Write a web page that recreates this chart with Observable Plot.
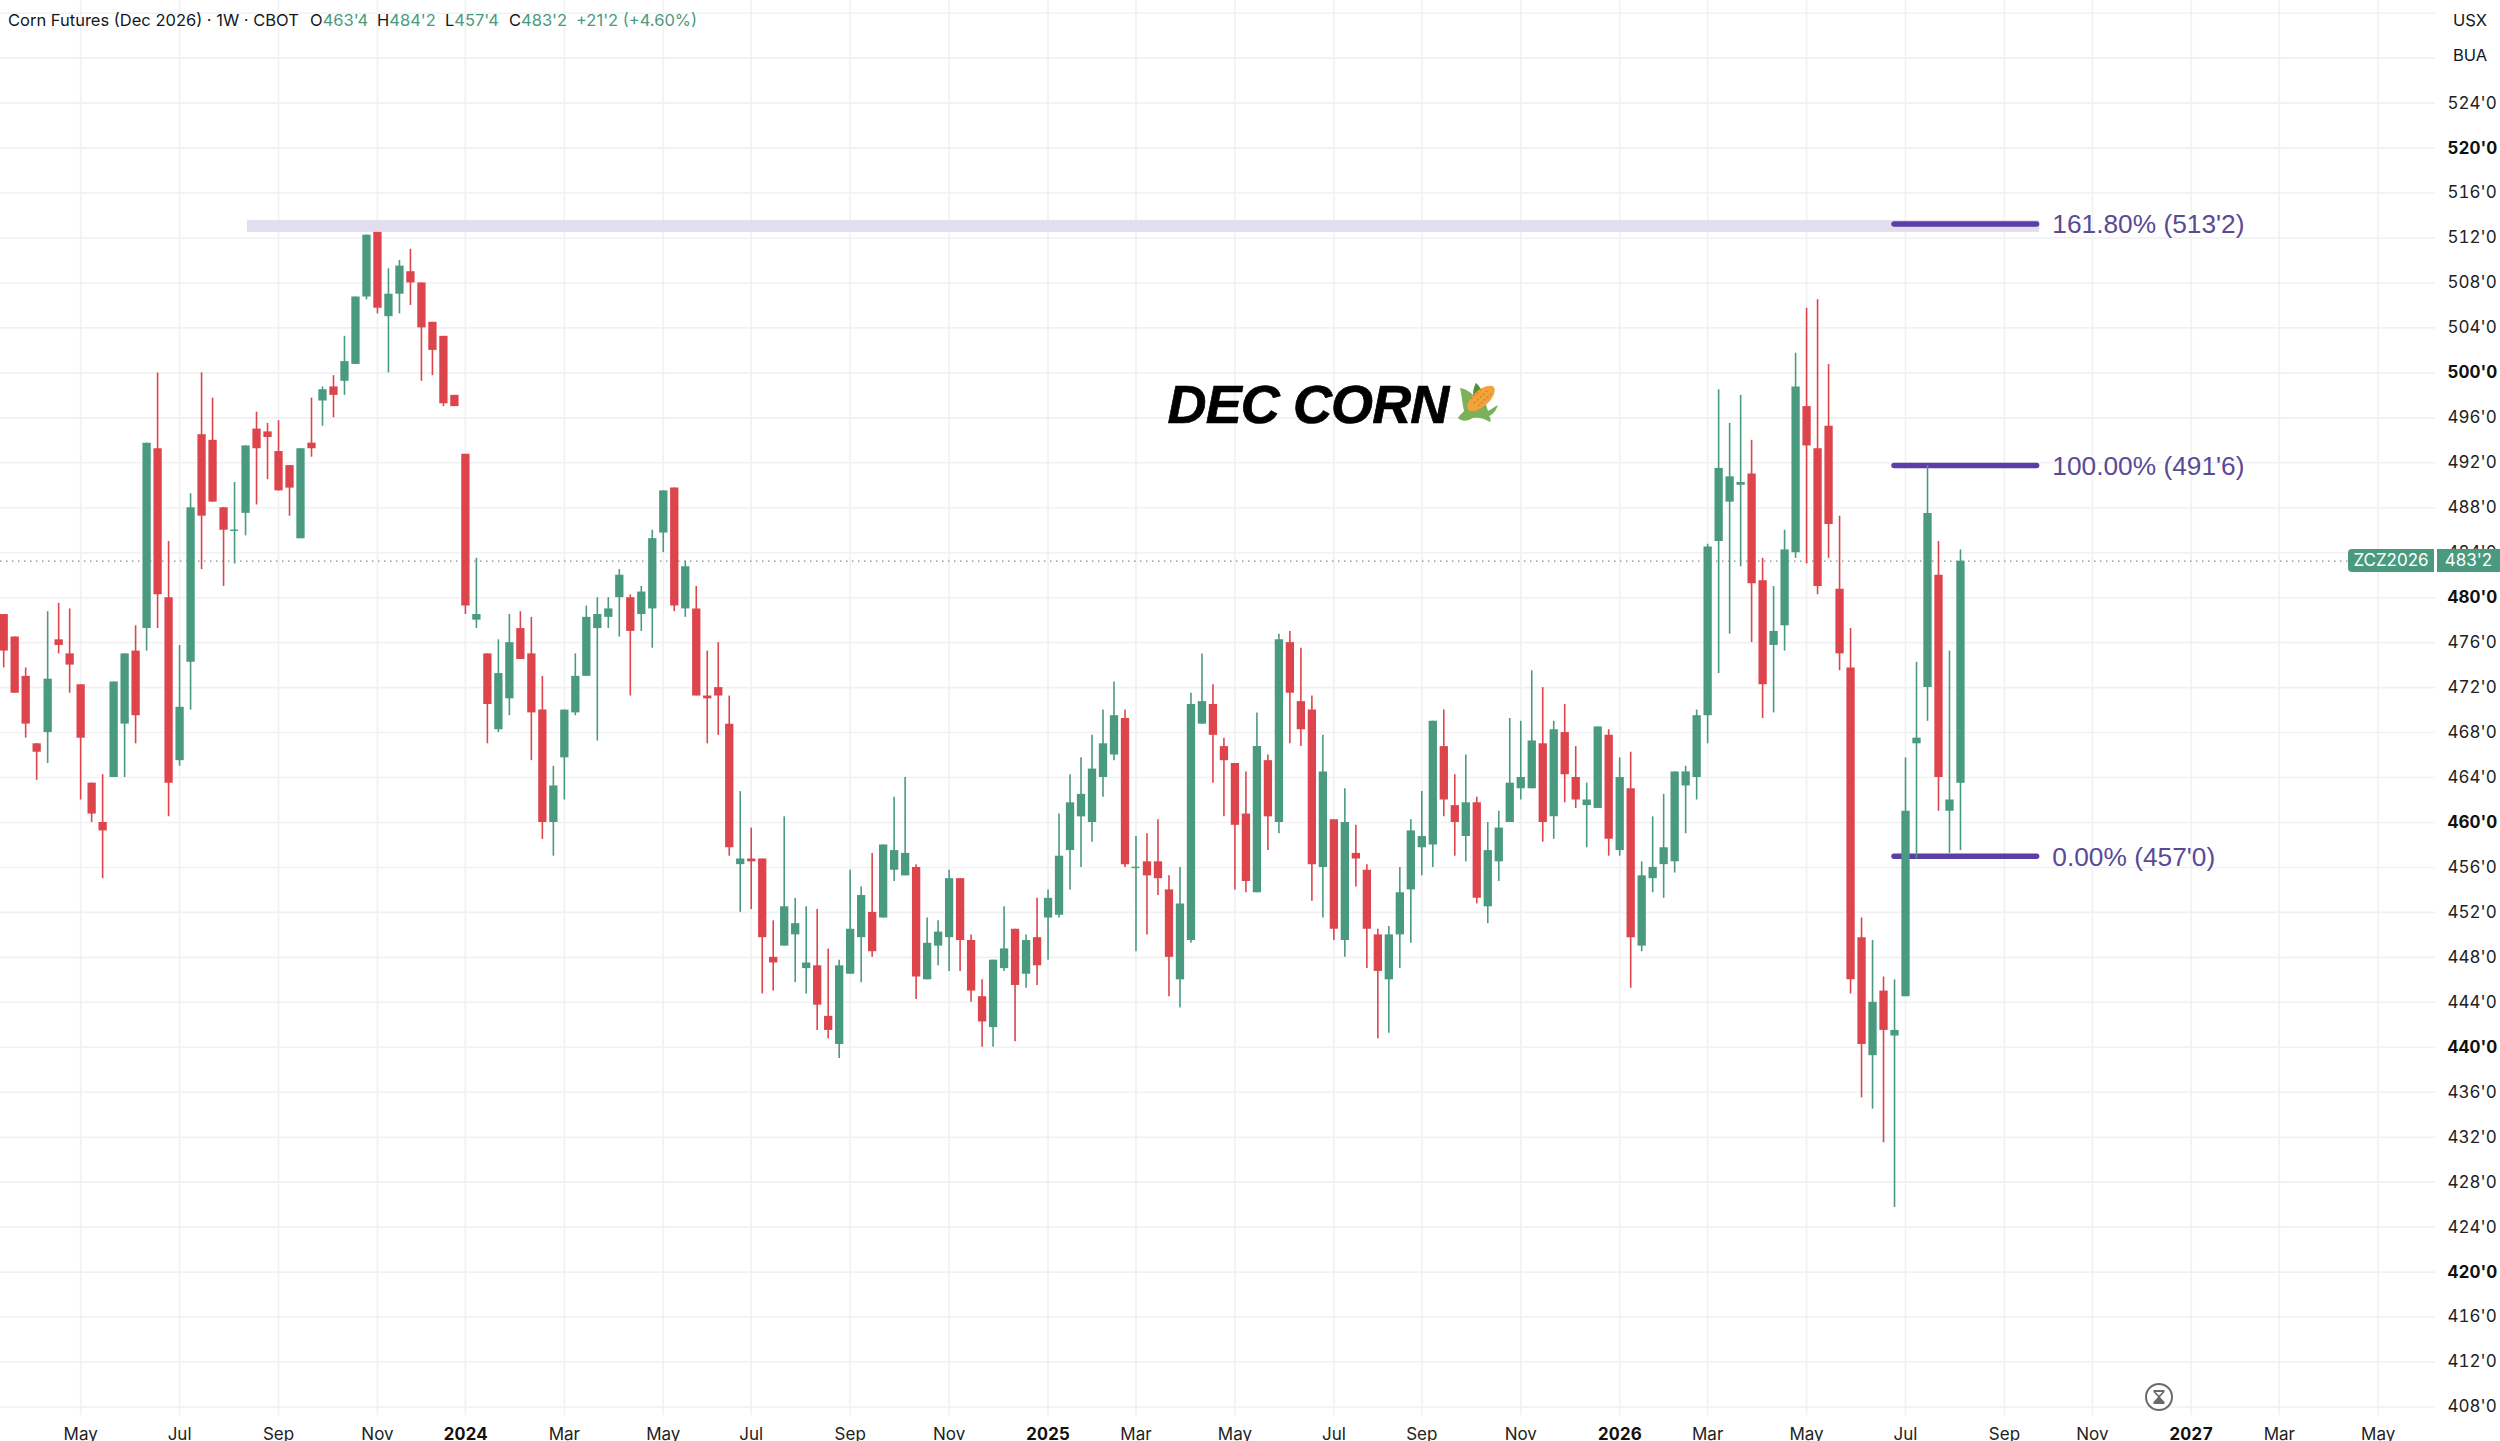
<!DOCTYPE html>
<html>
<head>
<meta charset="utf-8">
<script src="https://cdn.jsdelivr.net/npm/d3@7"></script>
<script src="https://cdn.jsdelivr.net/npm/@observablehq/plot@0.6"></script>
<style>
html,body{margin:0;padding:0;background:#fff;overflow:hidden}
#wrap{position:relative;width:2500px;height:1441px;font-family:Inter,"Liberation Sans",sans-serif}
#wrap svg{display:block}
#wrap svg [font-style="italic"], #wrap svg [font-style="italic"] text{letter-spacing:-0.9px}
.legend{position:absolute;left:8px;top:10px;font-size:16.5px;line-height:20px;color:#131722;white-space:nowrap;background:transparent}
.legend b{font-weight:400;color:#4a9a80}
.legend span{position:absolute;top:0}
.units{position:absolute;left:2441px;top:4px;width:59px;height:68px;background:#fff;border-radius:6px 0 0 6px;font-size:16.5px;color:#131722}
.units div{position:absolute;left:12px}
.tag{position:absolute;top:549px;height:23px;line-height:23px;background:#4a9a80;color:#fff;font-size:17px;text-align:center}
.icon{position:absolute}
</style>
</head>
<body>
<div id="wrap"></div>
<script>
const opens = [
478.5,476.5,473,467,468,476.25,475,472.25,463.5,460,
464,468.75,475.25,477.25,493.25,480,465.5,474.25,494.5,494,
488,486,487.5,495,494.75,493,491.75,485.25,493.75,497.5,
498.75,499.25,500.75,506.75,512.5,505,507,509,508,504.5,
503.25,498,492.75,478,475,468.25,471,477.25,475,470,
460,465.75,469.75,473,477.25,478.25,480,480,478.5,479,
485.75,489.75,479,479,471.25,472,468.75,456.25,456.75,456.75,
448,449,450,447,447.25,442.75,440.25,446.5,449.75,452,
451.5,455.75,455.25,456,446,449,449.75,455,449.5,444.5,
441.75,447,450.5,446.5,449.75,451.5,451.75,457.5,460.5,460,
464,466,469.25,456,456.5,456.5,454,446,449.5,468.75,
470.5,466.75,465.25,460.75,453.75,465.5,460,476,470.75,470,
456,460.25,449.5,457.25,455.75,450,446,450,454,457.75,
458,466.75,461.5,458.75,461.75,452.5,456.5,460,463,463,
467,460.5,468,464,461.5,461.25,467.75,457.5,463,449,
455,456.25,456.5,463.25,464,469.5,485,488.5,490,491,
481.5,475.75,477.5,484,497,493.25,495.25,480.75,473.75,449.75,
439.25,445,441,444.5,467,472,482,461,463.5];
const highs = [
478.5,476.5,473.75,467,478.75,479.5,479,472.25,463.5,464.25,
472.5,475,477.5,493.75,500,485,475.75,489.25,500,497.75,
488,490.25,493.5,496.5,495.5,495.75,491.75,493.25,497.75,498.75,
499.75,503.25,506.75,512.25,512.5,509.25,510,511,508,504.5,
503.25,498,492.75,483.5,475,476.25,478.5,478.75,478.25,473,
465,470,475,479.25,480,480,482.5,480.25,481,486,
489.5,489.75,483.25,481,475.25,476,471.25,462.75,459.5,456.75,
451.25,460.5,453.25,452.5,452.25,448.75,447.75,455.75,454.25,457.25,
458,462.25,464,456.25,451.5,451.25,455.75,455,450,446,
447.75,452.5,450.5,450,453.25,454,460.75,464.25,465.75,467.75,
470,472.5,470,458.75,459,460.25,455.25,456,471.5,475,
472.25,467.5,465.25,464.5,469.75,466,476.75,477,475.5,471.25,
467.75,460.25,463,459.75,456.25,450.5,450.75,456,460.25,462.75,
469,470,464.25,466,462.25,460,461,469.25,469,473.5,
472,469,470.5,466.75,463.5,468.5,468.25,465.75,466.25,456.5,
460.5,462.5,464.5,465,470,484.75,498.5,495.5,498,494,
483.5,481,486,501.75,505.75,506.5,500.75,487.25,477.25,451.5,
449.5,446.25,446,465.75,474.25,491.75,485,475.25,484.25];
const lows = [
473.75,471.5,467.5,463.75,465.25,475,471.5,462,460,455,
464,464,467,475.25,477.25,460.5,465,470,482.5,488.5,
481,483,485.5,488.25,490.5,489.5,487.25,485.25,492.5,495.25,
496,498,500.75,506.5,505.25,500,505.25,506,499.25,499.75,
497,497,478.5,477.25,467,468,469.5,474.5,465.5,458.5,
457,462,469.5,473,467.25,477.25,476.5,471.25,477,475.5,
484,478.75,478.25,471.25,467,467.75,457,452,452.25,444.75,
445,449,445.75,444.75,441.5,440.75,439,446.5,445.75,448,
451.5,454.75,455.25,444.25,446,447.25,446.75,446.75,444,440,
440,446.75,440.5,445.25,445.5,447.75,451.5,454,456,458.25,
462.25,465.5,456,448.5,450,453.5,444.5,443.5,449.25,468.75,
463.5,460.5,454,453.75,453.75,457.5,459,467,466.75,453,
451.5,449.5,448,454.25,447,440.75,441.25,447,449.25,455.25,
456,460.5,457,456.5,452.75,451,454.75,460,462,463,
458.25,458.5,461.75,461.25,457.75,461.25,457,457,445.25,448.5,
453.75,453.25,455.5,459,462,467,473.25,476.75,482.75,476,
469.25,469.75,475.25,483.5,483,480.25,483.5,473.5,444.75,435.5,
434.5,431.5,425.75,444.5,456.75,469,461,457.25,457.5];
const closes = [
475.25,471.5,468.75,466.25,472.75,475.75,474,467.5,460.75,459.25,
472.5,475,469.5,493.75,480.25,463.5,470.25,488,487.25,488.5,
486,486,493.5,493.25,494.25,489.5,489.75,493.25,493.25,498.5,
498,501,506.75,512.25,505.75,507,509.5,508,504,502,
497.25,497,479.25,478.5,470.5,473.25,476,474.5,469.75,460,
463.25,470,473,478.25,478.5,479,482,477,480.5,485.25,
489.5,479.25,482.75,471.25,471,471.25,457.75,456.75,456.5,449.75,
447.5,452.5,451,447.5,443.75,441.5,447.25,450.5,453.5,448.5,
458,457.5,457.25,446.25,449.25,450.25,455,449.5,445,442.25,
447.75,448.75,445.5,449.5,447.25,453.25,457,461.75,462.5,464.75,
467,469.5,456.25,456,455.25,455,448,452.75,470.5,470.75,
467.75,465.5,459.75,454.75,466.75,460.5,476.25,471.5,468.25,456.25,
464.5,450.5,460,456.75,450.5,446.75,450,453.75,459.25,458.75,
469,462,460,461.75,453.25,457.5,459.5,463.5,464,467.25,
460,468.25,464.25,462,462,468.5,458.5,464,449.75,455.25,
456,457.75,464.5,464.5,469.5,484.5,491.5,490.75,490.25,481.25,
472.25,477,484.25,498.75,493.5,481,486.5,475,446,440.25,
444,441.5,441.5,461,467.5,487.5,464,462,483.25];

// week index of the first bar of each labelled month (week 0 = 2023-03-13)
const monthWeeks  = [7,16,25,34,51,60,68,77,86,103,112,121,129,138,155,164,173,182,190,207,216];
const monthLabels = ["May","Jul","Sep","Nov","Mar","May","Jul","Sep","Nov","Mar","May","Jul","Sep","Nov","Mar","May","Jul","Sep","Nov","Mar","May"];
const yearWeeks   = [42,95,147,199];
const yearLabels  = ["2024","2025","2026","2027"];

const priceTicks = d3.range(408, 536, 4);
const priceLabels = priceTicks.filter(p => p <= 524);
const lastPrice = 483.25;

const fibLevels = [513.25, 491.75, 457];
const fibLabels = ["161.80% (513'2)", "100.00% (491'6)", "0.00% (457'0)"];
const fibStart = 172, fibEnd = 184.97, fibLabelAt = 186.35;
const resistanceBand = {x1: 22.18, x2: 185.2, y1: 512.5, y2: 513.55};

const GREEN = "#4a9a80", RED = "#de444c", PURPLE = "#5b3ea8", GRID = "#f1f1f4";
const FONT = "Inter, 'Liberation Sans', sans-serif";
const DRAWN = "'Liberation Sans', Arial, sans-serif";

const candles = opens.map((o, i) => ({i, open: o, high: highs[i], low: lows[i], close: closes[i]}));
const up = candles.filter(d => d.close >= d.open);
const down = candles.filter(d => d.close < d.open);
const doji = candles.filter(d => d.close === d.open);
const fibs = fibLevels.map((y, k) => ({y, label: fibLabels[k]}));
const monthFmt = d => monthLabels[monthWeeks.indexOf(d)];
const yearFmt = d => yearLabels[yearWeeks.indexOf(d)];

const chart = Plot.plot({
  width: 2500, height: 1441,
  marginLeft: 0, marginRight: 65, marginTop: 0, marginBottom: 26,
  style: {fontFamily: FONT, background: "#fff", color: "#131722"},
  x: {type: "linear", domain: [-0.29, 221.21], axis: null},
  y: {domain: [407.24, 533.13], axis: null},
  marks: [
    Plot.gridX([...monthWeeks, ...yearWeeks], {stroke: GRID, strokeOpacity: 1, strokeWidth: 1.6}),
    Plot.gridY(priceTicks, {stroke: GRID, strokeOpacity: 1, strokeWidth: 1.6}),
    Plot.rect([resistanceBand], {x1: "x1", x2: "x2", y1: "y1", y2: "y2", fill: "#e3deef"}),
    Plot.ruleY([lastPrice], {stroke: "#8a8a8a", strokeWidth: 1.2, strokeDasharray: "1.5 4.5"}),
    Plot.ruleY(fibs, {y: "y", x1: fibStart, x2: fibEnd, stroke: PURPLE, strokeWidth: 5.5, strokeLinecap: "round"}),
    Plot.ruleX(up, {x: "i", y1: "low", y2: "high", stroke: GREEN, strokeWidth: 1.6}),
    Plot.ruleX(down, {x: "i", y1: "low", y2: "high", stroke: RED, strokeWidth: 1.6}),
    Plot.ruleX(up, {x: "i", y1: "open", y2: "close", stroke: GREEN, strokeWidth: 8.3}),
    Plot.ruleX(down, {x: "i", y1: "open", y2: "close", stroke: RED, strokeWidth: 8.3}),
    Plot.ruleY(doji, {y: "open", x1: d => d.i - 0.36, x2: d => d.i + 0.36, stroke: GREEN, strokeWidth: 1.4}),
    Plot.text(fibs, {x: fibLabelAt, y: "y", dy: 1, text: "label", textAnchor: "start", fontSize: 26.3, fill: "#5a4a96", fontFamily: DRAWN}),
    Plot.text(["DEC CORN"], {x: 105.87, y: 497.1, text: d => d, textAnchor: "start", fontSize: 54, fontWeight: 700, fontStyle: "italic", fill: "#000", stroke: "#000", strokeWidth: 0.7, fontFamily: DRAWN}),
    Plot.axisX(monthWeeks, {anchor: "bottom", tickSize: 0, tickPadding: 12, tickFormat: monthFmt, fontSize: 17, fill: "#222", fontFamily: FONT, label: null}),
    Plot.axisX(yearWeeks, {anchor: "bottom", tickSize: 0, tickPadding: 12, tickFormat: yearFmt, fontSize: 17, fontWeight: 700, fill: "#111", fontFamily: FONT, label: null}),
    Plot.axisY(priceLabels.filter(p => p % 20 !== 0), {anchor: "right", tickSize: 0, tickPadding: 12, tickFormat: d => d + "'0", fontSize: 17, fill: "#222", fontFamily: FONT, label: null}),
    Plot.axisY(priceLabels.filter(p => p % 20 === 0), {anchor: "right", tickSize: 0, tickPadding: 12, tickFormat: d => d + "'0", fontSize: 17, fontWeight: 700, fill: "#111", fontFamily: FONT, label: null})
  ]
});
const wrap = document.getElementById("wrap");
wrap.appendChild(chart);

const overlay = document.createElement("div");
overlay.innerHTML = `
<div class="legend">Corn Futures (Dec 2026) · 1W · CBOT
  <span style="left:302px">O<b>463'4</b></span>
  <span style="left:369px">H<b>484'2</b></span>
  <span style="left:437px">L<b>457'4</b></span>
  <span style="left:501px">C<b>483'2</b></span>
  <span style="left:568px"><b>+21'2 (+4.60%)</b></span>
</div>
<div class="units"><div style="top:6px">USX</div><div style="top:41px">BUA</div></div>
<div class="tag" style="left:2348px;width:86px;border-radius:4px 0 0 4px">ZCZ2026</div>
<div class="tag" style="left:2437px;width:63px">483'2</div>
<svg class="icon" style="left:1456px;top:381px" width="44" height="44" viewBox="0 0 44 44">
  <path d="M2 37 C4 33 6 33 8 30 C6 22 6 14 4 7 C10 8 14 11 17 14 C17 8 18 5 20 2 C23 5 25 8 26 11 L32 30 C36 28 38 26 42 24 C40 29 38 33 33 35 C35 37 35 39 34 41 C28 37 22 36 17 37 C12 40 6 41 2 37Z" fill="#7cb15c"/>
  <path d="M17 14 C18 8 19 5 20 2 C23 5 25 8 26 11 L20 16Z" fill="#4f8f3f"/>
  <ellipse cx="25" cy="17.5" rx="17" ry="8" transform="rotate(-42 25 17.5)" fill="#f2a33a"/>
  <path d="M18 22 L32 9 M22 25 L35 13 M15 18 L27 7" stroke="#d9822b" stroke-width="1.5" stroke-dasharray="2 2" fill="none"/>
</svg>
<svg class="icon" style="left:2144px;top:1382px" width="30" height="30" viewBox="0 0 30 30">
  <circle cx="15" cy="15" r="13" fill="#fff" stroke="#6a6a6a" stroke-width="2"/>
  <path d="M9.5 8 H20.5 V10 L16 15 L20.5 20 V22 H9.5 V20 L14 15 L9.5 10Z" fill="#6a6a6a"/>
  <path d="M11.5 10 H18.5 L15 13.5Z" fill="#fff"/>
</svg>`;
wrap.appendChild(overlay);
</script>
</body>
</html>
